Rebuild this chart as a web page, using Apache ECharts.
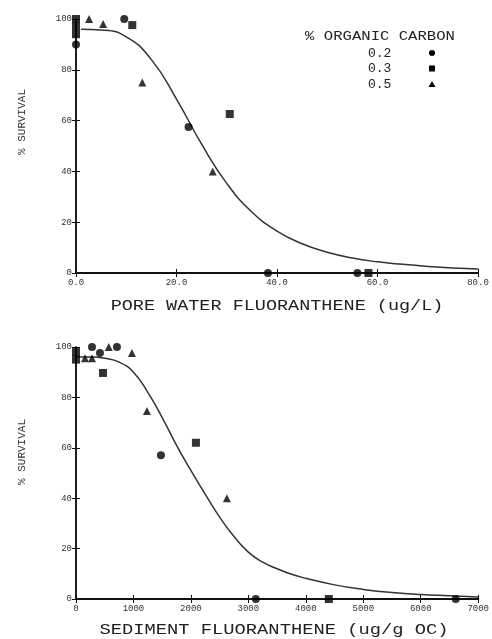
<!DOCTYPE html>
<html>
<head>
<meta charset="utf-8">
<script src="https://cdn.jsdelivr.net/npm/echarts@6/dist/echarts.min.js"></script>
<style>
  html, body { margin: 0; padding: 0; background: #fff; }
  #chart { width: 492px; height: 639px; }
</style>
</head>
<body>
<div id="chart"></div>
<script>
// Survival vs fluoranthene, two panels: pore water and OC-normalised sediment.
const survivalTicks = [0, 20, 40, 60, 80, 100];
const poreTicks = [0, 20, 40, 60, 80];
const sedTicks = [0, 1000, 2000, 3000, 4000, 5000, 6000, 7000];

const legendTitle = '% ORGANIC CARBON';
const carbonLevels = ['0.2', '0.3', '0.5'];

// Pore water fluoranthene (ug/L) vs % survival
const poreCircle = [[0, 90], [9.6, 100], [22.4, 57.5], [38.2, 0], [56, 0]];
const poreSquare = [[0, 100], [0, 97], [0, 94], [11.2, 97.6], [30.6, 62.6], [58.2, 0]];
const poreTriangle = [[2.6, 100], [5.4, 98], [13.2, 75], [27.2, 40]];
const poreCurve = [[1, 96], [5, 95.7], [10, 93], [15, 84], [20, 68.5], [25, 50.7], [30, 35.3],
  [35, 24], [40, 16.5], [45, 11.5], [50, 8.2], [55, 5.9], [60, 4.4], [65, 3.4],
  [70, 2.6], [75, 2.0], [80, 1.6]];

// Sediment fluoranthene (ug/g OC) vs % survival
const sedCircle = [[278, 100], [417, 97.6], [713, 100], [1478, 57], [3130, 0], [6609, 0]];
const sedSquare = [[0, 98], [0, 95], [470, 89.7], [2087, 62], [4400, 0]];
const sedTriangle = [[157, 95.5], [278, 95.5], [570, 100], [974, 97.6], [1235, 74.6], [2626, 40]];
const sedCurve = [[0, 96], [250, 96], [500, 95.5], [750, 94], [1000, 90], [1250, 82], [1500, 72],
  [1750, 61], [2000, 51], [2250, 41.5], [2500, 32.5], [2750, 24.8], [3000, 18.6], [3250, 14.6],
  [3500, 12], [3750, 9.8], [4000, 8.2], [4500, 5.6], [5000, 3.8], [5500, 2.6], [6000, 1.8],
  [6500, 1.3], [7000, 0.8]];

const FONT = 'Liberation Mono';
const INK = '#111';

function xAxes(gridIndex, ticks, fmt) {
  const min = ticks[0], max = ticks[ticks.length - 1], interval = ticks[1] - ticks[0];
  return [
    {
      type: 'value', gridIndex, position: 'bottom', min, max, interval,
      axisLine: { lineStyle: { color: INK, width: 2 } },
      axisTick: { inside: true, length: 4, lineStyle: { color: INK, width: 1 } },
      axisLabel: { color: '#333', fontFamily: FONT, fontSize: 9, margin: 5, formatter: fmt },
      splitLine: { show: false }
    },
    {
      type: 'value', gridIndex, position: 'top', min, max, interval,
      axisLine: { lineStyle: { color: INK, width: 2 } },
      axisTick: { inside: true, length: 4, lineStyle: { color: INK, width: 1 } },
      axisLabel: { show: false },
      splitLine: { show: false }
    }
  ];
}

function yAxes(gridIndex) {
  const min = survivalTicks[0], max = survivalTicks[survivalTicks.length - 1];
  const interval = survivalTicks[1] - survivalTicks[0];
  return [
    {
      type: 'value', gridIndex, position: 'left', min, max, interval,
      axisLine: { lineStyle: { color: INK, width: 1.5 } },
      axisTick: { inside: true, length: 4, lineStyle: { color: INK, width: 1 } },
      axisLabel: { color: '#333', fontFamily: FONT, fontSize: 9, margin: 4 },
      splitLine: { show: false }
    },
    {
      type: 'value', gridIndex, position: 'right', min, max, interval,
      axisLine: { lineStyle: { color: INK, width: 1.5 } },
      axisTick: { inside: true, length: 4, lineStyle: { color: INK, width: 1 } },
      axisLabel: { show: false },
      splitLine: { show: false }
    }
  ];
}

function scatter(data, symbol, size, xi, yi) {
  return {
    type: 'scatter', data, symbol, symbolSize: size, clip: false,
    xAxisIndex: xi, yAxisIndex: yi,
    itemStyle: { color: '#000' }, z: 5
  };
}

function curve(data, xi, yi) {
  return {
    type: 'line', data, smooth: true, showSymbol: false, clip: false,
    xAxisIndex: xi, yAxisIndex: yi,
    lineStyle: { color: '#333', width: 1.5 }, z: 3
  };
}

const chart = echarts.init(document.getElementById('chart'));

const legendRows = carbonLevels.map((lvl, i) => ({
  type: 'text', left: 368, top: 47 + i * 15.5,
  style: { text: lvl, font: '13px "' + FONT + '"', fill: '#222' }
}));
const legendMarks = [
  { type: 'circle', shape: { cx: 432, cy: 53, r: 3 }, style: { fill: '#000' } },
  { type: 'rect', shape: { x: 429, y: 65.5, width: 6, height: 6 }, style: { fill: '#000' } },
  { type: 'polygon', shape: { points: [[432, 81], [428.5, 87], [435.5, 87]] }, style: { fill: '#000' } }
];

chart.setOption({
  backgroundColor: '#fff',
  animation: false,
  grid: [
    { left: 76, right: 14, top: 19, height: 254 },
    { left: 76, right: 13, top: 347, height: 252 }
  ],
  xAxis: [
    ...xAxes(0, poreTicks, v => v.toFixed(1)),
    ...xAxes(1, sedTicks, v => String(v))
  ],
  yAxis: [...yAxes(0), ...yAxes(1)],
  series: [
    curve(poreCurve, 0, 0),
    scatter(poreCircle, 'circle', 8, 0, 0),
    scatter(poreSquare, 'rect', 8, 0, 0),
    scatter(poreTriangle, 'triangle', 8, 0, 0),
    curve(sedCurve, 2, 2),
    scatter(sedCircle, 'circle', 8, 2, 2),
    scatter(sedSquare, 'rect', 8, 2, 2),
    scatter(sedTriangle, 'triangle', 8, 2, 2)
  ],
  graphic: [
    {
      type: 'text', x: 277, y: 306, scaleX: 1.32,
      style: { text: 'PORE WATER FLUORANTHENE (ug/L)', font: '14px "' + FONT + '"',
        fill: '#222', align: 'center', verticalAlign: 'middle' }
    },
    {
      type: 'text', x: 274, y: 630, scaleX: 1.25,
      style: { text: 'SEDIMENT FLUORANTHENE (ug/g OC)', font: '15px "' + FONT + '"',
        fill: '#222', align: 'center', verticalAlign: 'middle' }
    },
    {
      type: 'text', x: 22, y: 122, rotation: Math.PI / 2,
      style: { text: '% SURVIVAL', font: '11px "' + FONT + '"', fill: '#333',
        align: 'center', verticalAlign: 'middle' }
    },
    {
      type: 'text', x: 22, y: 452, rotation: Math.PI / 2,
      style: { text: '% SURVIVAL', font: '11px "' + FONT + '"', fill: '#333',
        align: 'center', verticalAlign: 'middle' }
    },
    {
      type: 'text', x: 380, y: 37, scaleX: 1.3,
      style: { text: legendTitle, font: '12px "' + FONT + '"', fill: '#222',
        align: 'center', verticalAlign: 'middle' }
    },
    ...legendRows,
    ...legendMarks
  ]
});
</script>
</body>
</html>
